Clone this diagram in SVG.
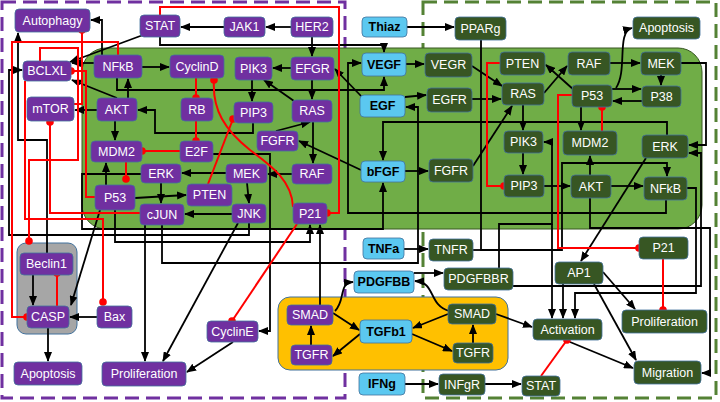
<svg xmlns="http://www.w3.org/2000/svg" width="720" height="402" viewBox="0 0 720 402">
<defs>
<marker id="ar" markerUnits="userSpaceOnUse" markerWidth="10" markerHeight="8" refX="9" refY="4" orient="auto"><path d="M0,0 L10,4 L0,8 z" fill="#000"/></marker>
<marker id="dt" markerUnits="userSpaceOnUse" markerWidth="9" markerHeight="9" refX="4.5" refY="4.5"><circle cx="4.5" cy="4.5" r="3.8" fill="#FF0000"/></marker>
<style>
.c{fill:none;stroke:#000;stroke-width:1.8;marker-end:url(#ar)}
.r{fill:none;stroke:#FF0000;stroke-width:2;marker-end:url(#dt)}
.np rect{fill:#7030A0;stroke:#41719C;stroke-width:0.8}
.nb rect{fill:#5BC8F0;stroke:#41719C;stroke-width:0.8}
.ng rect{fill:#375623;stroke:#41719C;stroke-width:0.8}
text{font-family:"Liberation Sans",Arial,sans-serif;font-size:12.5px;text-anchor:middle}
.np text,.ng text{fill:#fff}
.nb text{fill:#000;font-weight:bold}
</style>
</defs>
<rect width="720" height="402" fill="#fff"/>
<g id="regions">
<rect x="2" y="2" width="343" height="396" fill="none" stroke="#7030A0" stroke-width="3" stroke-dasharray="14,7"/>
<rect x="423" y="2" width="293" height="396" fill="none" stroke="#548235" stroke-width="3" stroke-dasharray="14,7"/>
<rect x="17" y="243" width="60" height="91" rx="9" fill="#A6A6A6" stroke="#41719C" stroke-width="1"/>
<rect x="278" y="297" width="230" height="73" rx="12" fill="#FFC000" stroke="#41719C" stroke-width="1"/>
<rect x="82" y="48" width="620" height="181" rx="24" fill="#70AD47" stroke="#385723" stroke-width="1"/>
</g>
<g id="connectors">
<path class="c" d="M102,55 V20 H91"/>
<path class="c" d="M143,35 L70,62"/>
<path class="c" d="M224,27 H181"/>
<path class="c" d="M291,27 H266"/>
<path class="c" d="M160,37 V45 H384 V52"/>
<path class="c" d="M312,37 V56"/>
<path class="c" d="M291,68 H273"/>
<path class="c" d="M312,80 V99"/>
<path class="c" d="M294,101 L264,80"/>
<path class="c" d="M252,80 V101"/>
<path class="c" d="M253,123 V133 H155 V110 H138"/>
<path class="c" d="M115,121 V140"/>
<path class="c" d="M97,110 H75"/>
<path class="c" d="M128,98 V79"/>
<path class="c" d="M117,98 L72,80"/>
<path class="c" d="M94,63 H72"/>
<path class="c" d="M142,67 H169"/>
<path class="c" d="M117,78 V90 H384 V77"/>
<path class="c" d="M292,174 H268"/>
<path class="c" d="M313,122 V163"/>
<path class="c" d="M276,131 L310,122"/>
<path class="c" d="M361,170 L299,141"/>
<path class="c" d="M226,173 H182"/>
<path class="c" d="M247,183 L249,203"/>
<path class="c" d="M232,214 H185"/>
<path class="c" d="M161,183 V203"/>
<path class="c" d="M135,198 L186,195"/>
<path class="c" d="M106,185 V163"/>
<path class="c" d="M213,154 H270 V331 H259"/>
<path class="c" d="M141,174 H82 V229 H383 V183"/>
<path class="c" d="M249,223 V235 H9 V70 H22"/>
<path class="c" d="M115,210 V242 H310 V225"/>
<path class="c" d="M320,305 V225"/>
<path class="c" d="M162,225 V263 H418 V107 H406"/>
<path class="c" d="M145,225 V361"/>
<path class="c" d="M238,223 L163,361"/>
<path class="c" d="M233,342 L187,372"/>
<path class="c" d="M100,210 L71,305"/>
<path class="c" d="M97,317 H70"/>
<path class="c" d="M33,275 V305"/>
<path class="c" d="M48,328 V361"/>
<path class="c" d="M47,253 V140 H18 V33"/>
<path class="c" d="M311,345 V326"/>
<path class="c" d="M333,313 L359,330"/>
<path class="c" d="M360,334 L333,356"/>
<path class="c" d="M335,311 C346,300 338,283 353,282"/>
<path class="c" d="M449,311 C428,305 436,282 415,281"/>
<path class="c" d="M448,314 L413,328"/>
<path class="c" d="M412,334 L452,351"/>
<path class="c" d="M473,343 V325"/>
<path class="c" d="M496,314 L532,327"/>
<path class="c" d="M414,273 H443"/>
<path class="c" d="M405,384 H438"/>
<path class="c" d="M485,384 H521"/>
<path class="c" d="M404,249 H428"/>
<path class="c" d="M407,27 H454"/>
<path class="c" d="M406,64 H424"/>
<path class="c" d="M405,97 L426,95"/>
<path class="c" d="M362,97 L335,69"/>
<path class="c" d="M405,171 H428"/>
<path class="c" d="M666,200 V213 H348 V63 H361"/>
<path class="c" d="M667,135 V122 H383 V160"/>
<path class="c" d="M472,66 L502,86"/>
<path class="c" d="M472,99 H501"/>
<path class="c" d="M473,166 L512,106"/>
<path class="c" d="M544,93 L567,66"/>
<path class="c" d="M574,90 L546,65"/>
<path class="c" d="M610,63 H640"/>
<path class="c" d="M661,75 V85"/>
<path class="c" d="M612,89 H641"/>
<path class="c" d="M642,101 H613"/>
<path class="c" d="M616,88 C628,70 616,32 632,28"/>
<path class="c" d="M581,107 V130"/>
<path class="c" d="M523,105 V130"/>
<path class="c" d="M523,153 V174"/>
<path class="c" d="M544,186 H570"/>
<path class="c" d="M611,186 H643"/>
<path class="c" d="M590,175 V156"/>
<path class="c" d="M681,63 H706 V145 H689"/>
<path class="c" d="M513,286 H701 V153 H689"/>
<path class="c" d="M687,188 H696 V293 H575 V318"/>
<path class="c" d="M590,198 V228 H710 V373 H702"/>
<path class="c" d="M499,268 V224 H552 V142 H544"/>
<path class="c" d="M552,224 V318"/>
<path class="c" d="M481,40 V250 H562 V163 H667 V176"/>
<path class="c" d="M473,250 H481" style="marker-end:none"/>
<path class="c" d="M563,284 V318"/>
<path class="c" d="M603,272 L635,309"/>
<path class="c" d="M594,284 L636,360"/>
<path class="c" d="M570,342 L633,368"/>
<path class="c" d="M646,158 L581,261"/>
<path class="r" d="M118,55 V42 H12 V317 H27"/>
<path class="r" d="M160,15 V7 H339 V213 H327"/>
<path class="r" d="M196,78 V98"/>
<path class="r" d="M196,121 V141"/>
<path class="r" d="M180,151 H142"/>
<path class="r" d="M126,162 V179"/>
<path class="r" d="M208,184 L233,119"/>
<path class="r" d="M293,207 C292,180 270,165 250,150 C225,130 212,110 214,80"/>
<path class="r" d="M297,224 L232,321"/>
<path class="r" d="M140,213 H50 V122"/>
<path class="r" d="M95,197 H86 V71 H71"/>
<path class="r" d="M74,104 H82 V30"/>
<path class="r" d="M40,61 V48 H78 V160 H29 V241"/>
<path class="r" d="M25,81 V219 H103 V302"/>
<path class="r" d="M57,306 V273"/>
<path class="r" d="M500,63 H487 V186 H504"/>
<path class="r" d="M602,131 V107"/>
<path class="r" d="M572,95 H558 V248 H639"/>
<path class="r" d="M663,259 V310"/>
<path class="r" d="M541,376 L567,340"/>
</g>
<g id="n-Autophagy" class="np"><rect x="15" y="9" width="75" height="23" rx="4"/><text x="52.5" y="25">Autophagy</text></g>
<g id="n-STAT-p" class="np"><rect x="140" y="15" width="40" height="22" rx="4"/><text x="160" y="30">STAT</text></g>
<g id="n-JAK1" class="np"><rect x="224" y="17" width="41" height="20" rx="4"/><text x="244.5" y="31">JAK1</text></g>
<g id="n-HER2" class="np"><rect x="291" y="17" width="42" height="20" rx="4"/><text x="312" y="31">HER2</text></g>
<g id="n-BCLXL" class="np"><rect x="23" y="61" width="48" height="20" rx="4"/><text x="47" y="75">BCLXL</text></g>
<g id="n-NFkB-p" class="np"><rect x="94" y="55" width="48" height="23" rx="4"/><text x="118" y="71">NFkB</text></g>
<g id="n-CyclinD" class="np"><rect x="170" y="55" width="54" height="23" rx="4"/><text x="197" y="71">CyclinD</text></g>
<g id="n-PIK3-p" class="np"><rect x="235" y="57" width="37" height="23" rx="4"/><text x="253.5" y="73">PIK3</text></g>
<g id="n-EFGR" class="np"><rect x="291" y="57" width="43" height="23" rx="4"/><text x="312.5" y="73">EFGR</text></g>
<g id="n-mTOR" class="np"><rect x="27" y="97" width="47" height="24" rx="4"/><text x="50.5" y="113">mTOR</text></g>
<g id="n-AKT-p" class="np"><rect x="97" y="98" width="40" height="23" rx="4"/><text x="117" y="114">AKT</text></g>
<g id="n-RB" class="np"><rect x="181" y="98" width="32" height="23" rx="4"/><text x="197" y="114">RB</text></g>
<g id="n-PIP3-p" class="np"><rect x="234" y="102" width="39" height="21" rx="4"/><text x="253.5" y="117">PIP3</text></g>
<g id="n-RAS-p" class="np"><rect x="292" y="100" width="40" height="22" rx="4"/><text x="312" y="115">RAS</text></g>
<g id="n-MDM2-p" class="np"><rect x="91" y="141" width="51" height="21" rx="4"/><text x="116.5" y="156">MDM2</text></g>
<g id="n-E2F" class="np"><rect x="180" y="141" width="33" height="21" rx="4"/><text x="196.5" y="156">E2F</text></g>
<g id="n-FGFR-p" class="np"><rect x="257" y="131" width="41" height="20" rx="4"/><text x="277.5" y="145">FGFR</text></g>
<g id="n-ERK-p" class="np"><rect x="141" y="164" width="40" height="19" rx="4"/><text x="161" y="178">ERK</text></g>
<g id="n-MEK-p" class="np"><rect x="226" y="164" width="41" height="19" rx="4"/><text x="246.5" y="178">MEK</text></g>
<g id="n-RAF-p" class="np"><rect x="292" y="164" width="40" height="20" rx="4"/><text x="312" y="178">RAF</text></g>
<g id="n-P53-p" class="np"><rect x="95" y="185" width="40" height="25" rx="4"/><text x="115" y="202">P53</text></g>
<g id="n-PTEN-p" class="np"><rect x="187" y="184" width="45" height="22" rx="4"/><text x="209.5" y="199">PTEN</text></g>
<g id="n-cJUN" class="np"><rect x="140" y="204" width="44" height="21" rx="4"/><text x="162" y="219">cJUN</text></g>
<g id="n-JNK" class="np"><rect x="232" y="204" width="34" height="19" rx="4"/><text x="249" y="218">JNK</text></g>
<g id="n-P21-p" class="np"><rect x="293" y="203" width="34" height="21" rx="4"/><text x="310" y="218">P21</text></g>
<g id="n-Beclin1" class="np"><rect x="20" y="253" width="53" height="22" rx="4"/><text x="46.5" y="268">Beclin1</text></g>
<g id="n-CASP" class="np"><rect x="27" y="306" width="42" height="22" rx="4"/><text x="48" y="321">CASP</text></g>
<g id="n-Bax" class="np"><rect x="97" y="306" width="35" height="22" rx="4"/><text x="114.5" y="321">Bax</text></g>
<g id="n-Apoptosis-p" class="np"><rect x="14" y="362" width="68" height="23" rx="4"/><text x="48" y="378">Apoptosis</text></g>
<g id="n-Proliferation-p" class="np"><rect x="102" y="362" width="84" height="24" rx="4"/><text x="144" y="378">Proliferation</text></g>
<g id="n-CyclinE" class="np"><rect x="207" y="321" width="51" height="21" rx="4"/><text x="232.5" y="336">CyclinE</text></g>
<g id="n-SMAD-p" class="np"><rect x="287" y="305" width="46" height="20" rx="4"/><text x="310" y="319">SMAD</text></g>
<g id="n-TGFR-p" class="np"><rect x="291" y="345" width="41" height="20" rx="4"/><text x="311.5" y="359">TGFR</text></g>
<g id="n-Thiaz" class="nb"><rect x="362" y="17" width="45" height="20" rx="4"/><text x="384.5" y="31">Thiaz</text></g>
<g id="n-VEGF" class="nb"><rect x="362" y="53" width="44" height="23" rx="4"/><text x="384" y="69">VEGF</text></g>
<g id="n-EGF" class="nb"><rect x="360" y="95" width="45" height="22" rx="4"/><text x="382.5" y="110">EGF</text></g>
<g id="n-bFGF" class="nb"><rect x="361" y="161" width="44" height="21" rx="4"/><text x="383" y="176">bFGF</text></g>
<g id="n-TNFa" class="nb"><rect x="363" y="238" width="41" height="21" rx="4"/><text x="383.5" y="253">TNFa</text></g>
<g id="n-PDGFBB" class="nb"><rect x="354" y="271" width="60" height="22" rx="4"/><text x="384" y="286">PDGFBB</text></g>
<g id="n-TGFb1" class="nb"><rect x="360" y="320" width="52" height="23" rx="4"/><text x="386" y="336">TGFb1</text></g>
<g id="n-IFNg" class="nb"><rect x="359" y="373" width="46" height="22" rx="4"/><text x="382" y="388">IFNg</text></g>
<g id="n-PPARg" class="ng"><rect x="455" y="17" width="51" height="23" rx="4"/><text x="480.5" y="33">PPARg</text></g>
<g id="n-VEGR" class="ng"><rect x="425" y="53" width="47" height="24" rx="4"/><text x="448.5" y="69">VEGR</text></g>
<g id="n-EGFR-g" class="ng"><rect x="427" y="88" width="45" height="24" rx="4"/><text x="449.5" y="104">EGFR</text></g>
<g id="n-FGFR-g" class="ng"><rect x="429" y="159" width="44" height="23" rx="4"/><text x="451" y="175">FGFR</text></g>
<g id="n-TNFR" class="ng"><rect x="429" y="239" width="44" height="22" rx="4"/><text x="451" y="254">TNFR</text></g>
<g id="n-PDGFBBR" class="ng"><rect x="444" y="268" width="69" height="22" rx="4"/><text x="478.5" y="283">PDGFBBR</text></g>
<g id="n-SMAD-g" class="ng"><rect x="448" y="304" width="48" height="20" rx="4"/><text x="472" y="318">SMAD</text></g>
<g id="n-TGFR-g" class="ng"><rect x="453" y="343" width="40" height="20" rx="4"/><text x="473" y="357">TGFR</text></g>
<g id="n-INFgR" class="ng"><rect x="439" y="374" width="46" height="21" rx="4"/><text x="462" y="389">INFgR</text></g>
<g id="n-STAT-g" class="ng"><rect x="522" y="376" width="38" height="20" rx="4"/><text x="541" y="390">STAT</text></g>
<g id="n-Activation" class="ng"><rect x="533" y="319" width="69" height="21" rx="4"/><text x="567.5" y="334">Activation</text></g>
<g id="n-AP1" class="ng"><rect x="555" y="262" width="48" height="22" rx="4"/><text x="579" y="277">AP1</text></g>
<g id="n-Proliferation-g" class="ng"><rect x="622" y="310" width="85" height="23" rx="4"/><text x="664.5" y="326">Proliferation</text></g>
<g id="n-Migration" class="ng"><rect x="634" y="361" width="67" height="23" rx="4"/><text x="667.5" y="377">Migration</text></g>
<g id="n-P21-g" class="ng"><rect x="639" y="237" width="49" height="22" rx="4"/><text x="663.5" y="252">P21</text></g>
<g id="n-PTEN-g" class="ng"><rect x="500" y="52" width="45" height="23" rx="4"/><text x="522.5" y="68">PTEN</text></g>
<g id="n-RAF-g" class="ng"><rect x="568" y="52" width="42" height="23" rx="4"/><text x="589" y="68">RAF</text></g>
<g id="n-MEK-g" class="ng"><rect x="641" y="52" width="40" height="23" rx="4"/><text x="661" y="68">MEK</text></g>
<g id="n-Apoptosis-g" class="ng"><rect x="633" y="17" width="67" height="22" rx="4"/><text x="666.5" y="32">Apoptosis</text></g>
<g id="n-RAS-g" class="ng"><rect x="502" y="83" width="42" height="22" rx="4"/><text x="523" y="98">RAS</text></g>
<g id="n-P53-g" class="ng"><rect x="572" y="85" width="40" height="22" rx="4"/><text x="592" y="100">P53</text></g>
<g id="n-P38" class="ng"><rect x="642" y="86" width="39" height="21" rx="4"/><text x="661.5" y="101">P38</text></g>
<g id="n-PIK3-g" class="ng"><rect x="504" y="131" width="39" height="22" rx="4"/><text x="523.5" y="146">PIK3</text></g>
<g id="n-MDM2-g" class="ng"><rect x="563" y="131" width="54" height="24" rx="4"/><text x="590" y="147">MDM2</text></g>
<g id="n-ERK-g" class="ng"><rect x="642" y="135" width="46" height="23" rx="4"/><text x="665" y="151">ERK</text></g>
<g id="n-PIP3-g" class="ng"><rect x="504" y="175" width="40" height="22" rx="4"/><text x="524" y="190">PIP3</text></g>
<g id="n-AKT-g" class="ng"><rect x="571" y="175" width="40" height="23" rx="4"/><text x="591" y="191">AKT</text></g>
<g id="n-NFkB-g" class="ng"><rect x="644" y="177" width="43" height="23" rx="4"/><text x="665.5" y="193">NFkB</text></g>
</svg>
